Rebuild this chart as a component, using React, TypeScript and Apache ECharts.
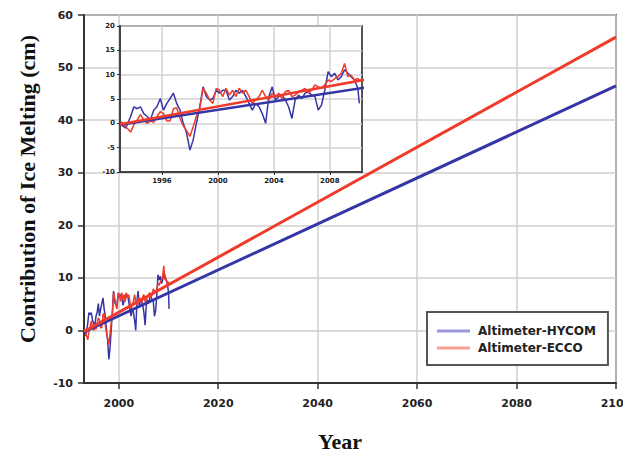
import React, { useEffect, useRef } from "react";
import * as echarts from "echarts";

// Sample times (decimal years) for the altimetry-derived series
const years = [
  1993.1, 1993.41, 1993.76, 1993.99, 1994.23, 1994.46, 1994.7, 1994.94, 1995.17, 1995.41,
  1995.64, 1995.88, 1996.11, 1996.35, 1996.58, 1996.82, 1997.05, 1997.29, 1997.52, 1997.76,
  1998.0, 1998.23, 1998.46, 1998.7, 1998.94, 1999.17, 1999.41, 1999.64, 1999.88, 2000.11,
  2000.35, 2000.58, 2000.82, 2001.05, 2001.29, 2001.52, 2001.76, 2002.0, 2002.23, 2002.46,
  2002.7, 2002.94, 2003.17, 2003.41, 2003.64, 2003.88, 2004.11, 2004.35, 2004.58, 2004.82,
  2005.05, 2005.29, 2005.52, 2005.76, 2006.0, 2006.23, 2006.46, 2006.7, 2006.94, 2007.17,
  2007.41, 2007.64, 2007.88, 2008.11, 2008.35, 2008.58, 2008.82, 2009.05, 2009.29, 2009.52,
  2009.76, 2010.0, 2010.11,
];

const hycom = [
  -0.3, -1.0, 1.4, 3.4, 3.0, 3.4, 2.0, 1.4, 0.7, 2.7,
  3.4, 5.1, 2.7, 4.1, 5.1, 6.2, 4.1, 2.7, 0.0, -2.0,
  -5.5, -3.4, 0.0, 3.4, 7.5, 5.5, 4.8, 5.1, 6.8, 6.2,
  6.8, 6.8, 4.8, 5.5, 6.8, 6.2, 6.8, 5.5, 4.1, 2.7,
  4.1, 3.4, 2.0, 0.0, 5.5, 7.5, 4.8, 5.5, 5.8, 4.8,
  3.4, 1.0, 4.8, 5.8, 5.1, 6.2, 6.5, 5.8, 5.5, 2.7,
  3.8, 6.8, 10.6, 9.6, 10.3, 8.9, 9.6, 11.0, 10.3, 9.6,
  8.9, 7.2, 4.1,
];

const ecco = [
  0.3, -0.7, -1.8, -0.3, 0.7, 1.8, 0.7, 0.0, 0.5, 0.2,
  1.4, 2.4, 2.0, 0.5, 0.5, 3.0, 3.2, 1.0, -0.5, -1.5,
  -2.7, -0.7, 1.4, 3.0, 7.2, 6.2, 4.8, 4.1, 7.2, 6.8,
  5.5, 7.2, 5.8, 6.8, 5.5, 7.2, 6.2, 6.8, 5.5, 4.1,
  4.8, 5.5, 6.8, 5.5, 4.8, 6.2, 5.5, 6.2, 5.1, 6.5,
  6.8, 5.5, 5.8, 6.5, 6.8, 7.2, 6.2, 6.8, 7.9, 7.5,
  7.2, 7.9, 8.9, 8.6, 9.2, 9.6, 10.3, 12.3, 9.6, 9.9,
  8.9, 9.2, 8.9,
];

// Linear trend projections
const trendYears = [1993, 2100];
const hycomTrend = [-0.3, 46.5];
const eccoTrend = [-0.2, 55.8];

const mainXTicks = [2000, 2020, 2040, 2060, 2080, 2100];
const insetXTicks = [1996, 2000, 2004, 2008];

const BLUE = "#3535a8";
const RED = "#f03a2a";
const LABEL_FONT = "DejaVu Sans";
const TITLE_FONT = "Liberation Serif";

export default function App() {
  const ref = useRef<HTMLDivElement>(null);

  useEffect(() => {
    if (!ref.current) return;
    const chart = echarts.init(ref.current, undefined, { renderer: "svg" });

    const pairs = (xs: number[], ys: number[]) => xs.map((x, i) => [x, ys[i]]);

    const tickLabel = (size: number, margin: number) => ({
      fontFamily: LABEL_FONT,
      fontWeight: "bold" as const,
      fontSize: size,
      color: "#222",
      margin,
      formatter: (v: number) => String(v),
    });

    const dataSeries = (name: string, ys: number[], color: string, axis: number, z: number, width: number) => ({
      type: "line",
      name,
      xAxisIndex: axis,
      yAxisIndex: axis,
      data: pairs(years, ys),
      showSymbol: false,
      symbol: "none",
      z,
      lineStyle: { color, width },
      itemStyle: { color },
    });

    const trendSeries = (name: string, ys: number[], color: string, axis: number, z: number, width: number) => ({
      type: "line",
      name,
      xAxisIndex: axis,
      yAxisIndex: axis,
      data: pairs(trendYears, ys),
      showSymbol: false,
      symbol: "none",
      z,
      lineStyle: { color, width },
      itemStyle: { color },
    });

    chart.setOption({
      animation: false,
      backgroundColor: "#fff",
      grid: [
        {
          left: 84,
          top: 15,
          right: 7,
          bottom: 69,
          outerBoundsMode: "none",
          containLabel: false,
          show: true,
          borderColor: "#5a5a5a",
          borderWidth: 2,
          backgroundColor: "transparent",
        },
        {
          left: 120,
          top: 26,
          width: 242,
          height: 146,
          outerBoundsMode: "none",
          containLabel: false,
          show: true,
          borderColor: "#555",
          borderWidth: 2,
          backgroundColor: "#fff",
          z: 3,
        },
      ],
      xAxis: [
        {
          type: "value",
          gridIndex: 0,
          min: 1993,
          max: 2100,
          axisLine: { show: true, onZero: false, lineStyle: { color: "#333", width: 2 } },
          axisTick: { show: true, length: 6, customValues: mainXTicks, lineStyle: { color: "#333", width: 1.5 } },
          axisLabel: { ...tickLabel(11, 15), customValues: mainXTicks },
          splitLine: { show: true, lineStyle: { color: "#cfcfcf", width: 1.5 } },
        },
        {
          type: "value",
          gridIndex: 1,
          min: 1993,
          max: 2010.3,
          z: 4,
          axisLine: { show: true, onZero: false, lineStyle: { color: "#444", width: 2 } },
          axisTick: { show: true, length: 3, customValues: insetXTicks, lineStyle: { color: "#333" } },
          axisLabel: { ...tickLabel(7, 5), customValues: insetXTicks },
          splitLine: { show: true, lineStyle: { color: "#d2d2d2", width: 1.5 } },
        },
      ],
      yAxis: [
        {
          type: "value",
          gridIndex: 0,
          min: -10,
          max: 60,
          interval: 10,
          axisLine: { show: true, onZero: false, lineStyle: { color: "#333", width: 2 } },
          axisTick: { show: true, length: 6, lineStyle: { color: "#333", width: 1.5 } },
          axisLabel: tickLabel(11, 11),
          splitLine: { show: true, lineStyle: { color: "#cfcfcf", width: 1.5 } },
        },
        {
          type: "value",
          gridIndex: 1,
          min: -10,
          max: 20,
          interval: 5,
          z: 4,
          axisLine: { show: true, onZero: false, lineStyle: { color: "#444", width: 2 } },
          axisTick: { show: true, length: 3, lineStyle: { color: "#333" } },
          axisLabel: tickLabel(7, 5),
          splitLine: { show: true, lineStyle: { color: "#d2d2d2", width: 1.5 } },
        },
      ],
      legend: {
        show: true,
        orient: "vertical",
        left: 427,
        top: 312,
        padding: [13, 12, 11, 10],
        itemGap: 5,
        itemWidth: 33,
        itemHeight: 3,
        icon: "rect",
        backgroundColor: "#fff",
        borderColor: "#555",
        borderWidth: 2,
        z: 8,
        textStyle: { fontFamily: LABEL_FONT, fontWeight: "bold", fontSize: 12, color: "#222", padding: [0, 0, 0, 3] },
        data: [
          { name: "Altimeter-HYCOM", itemStyle: { color: "#9a98d8" } },
          { name: "Altimeter-ECCO", itemStyle: { color: "#f5a292" } },
        ],
      },
      graphic: [
        {
          type: "text",
          x: 27,
          y: 189,
          rotation: Math.PI / 2,
          style: {
            text: "Contribution of Ice Melting (cm)",
            font: `bold 22px "${TITLE_FONT}"`,
            fill: "#111",
            textAlign: "center",
            textVerticalAlign: "middle",
          },
        },
        {
          type: "text",
          x: 340,
          y: 441,
          style: {
            text: "Year",
            font: `bold 22px "${TITLE_FONT}"`,
            fill: "#111",
            textAlign: "center",
            textVerticalAlign: "middle",
          },
        },
      ],
      series: [
        dataSeries("Altimeter-HYCOM", hycom, BLUE, 0, 2, 1.5),
        dataSeries("Altimeter-ECCO", ecco, RED, 0, 2, 1.5),
        trendSeries("HYCOM trend", hycomTrend, BLUE, 0, 2, 3),
        trendSeries("ECCO trend", eccoTrend, RED, 0, 2, 3),
        dataSeries("Altimeter-HYCOM", hycom, BLUE, 1, 5, 1.5),
        dataSeries("Altimeter-ECCO", ecco, RED, 1, 5, 1.5),
        trendSeries("HYCOM trend", hycomTrend, BLUE, 1, 5, 2.5),
        trendSeries("ECCO trend", eccoTrend, RED, 1, 5, 2.5),
      ],
    });

    return () => chart.dispose();
  }, []);

  return (
    <div
      ref={ref}
      style={{ position: "fixed", left: 0, top: 0, width: 623, height: 452 }}
    />
  );
}
